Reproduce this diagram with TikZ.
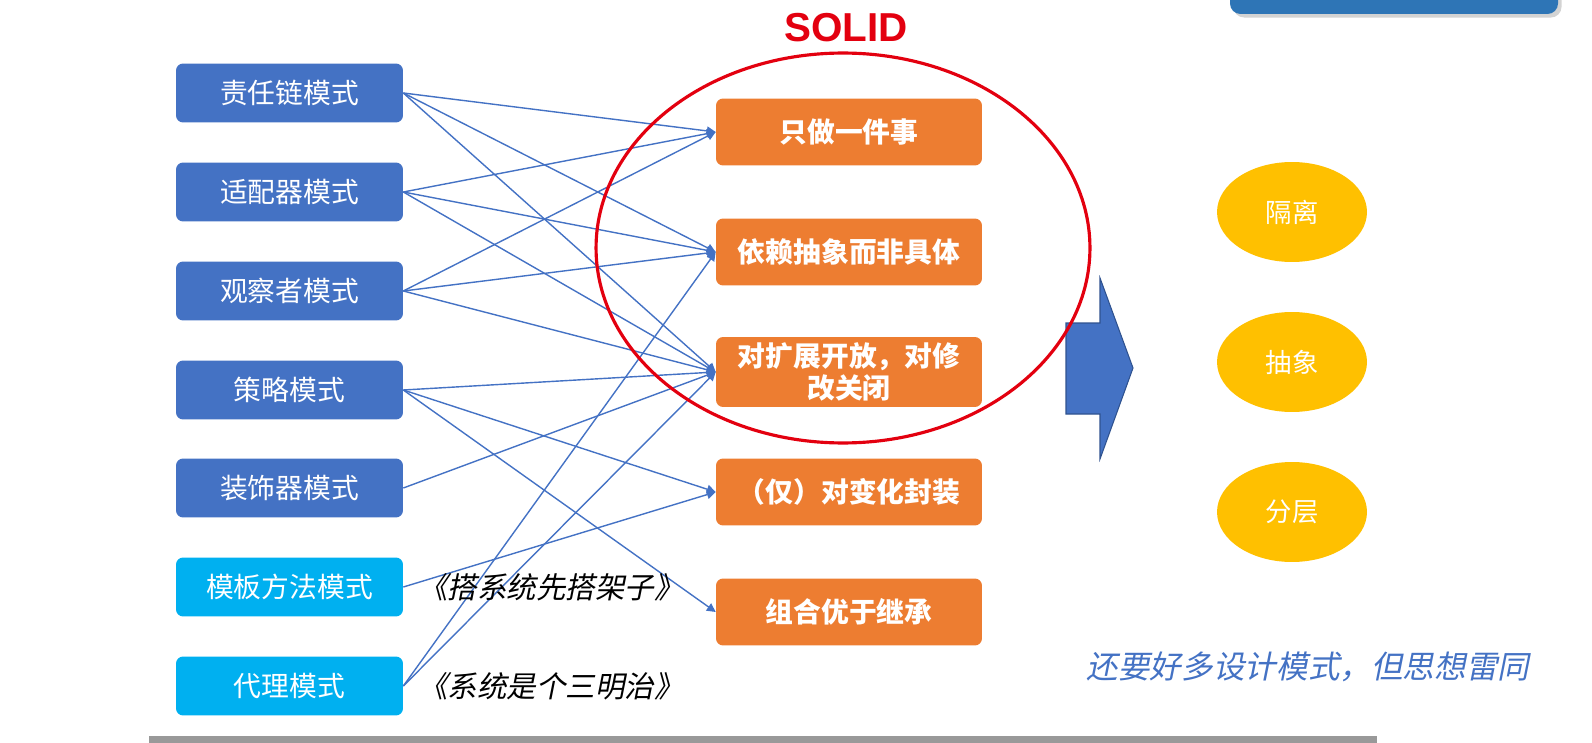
\documentclass[tikz,border=0pt]{standalone}
\usepackage{fontspec}
\setmainfont{Noto Sans CJK SC}
\newfontfamily\slantcjk[FakeSlant=0.2]{Noto Sans CJK SC}
\newfontfamily\solidfont{Liberation Sans}
\usetikzlibrary{arrows.meta,shadows,shapes.geometric}

\definecolor{pptblue}{HTML}{4472C4}
\definecolor{pptcyan}{HTML}{00B0F0}
\definecolor{pptorange}{HTML}{ED7D31}
\definecolor{pptgold}{HTML}{FFC000}
\definecolor{pptnavy}{HTML}{2F528F}
\definecolor{pptred}{HTML}{E3000F}
\definecolor{titlebar}{HTML}{2E75B6}

\tikzset{
	pattern box/.style={draw=none, fill=pptblue, rounded corners=4pt, text=white,
		minimum width=4.54cm, minimum height=1.18cm, font=\fontsize{15.8}{19}\selectfont},
	rule box/.style={draw=none, fill=pptorange, rounded corners=4pt, text=white, align=center,
		minimum width=5.32cm, minimum height=1.34cm, font=\fontsize{15.8}{18}\selectfont\bfseries},
	idea/.style={ellipse, fill=pptgold, text=white, minimum width=3cm, minimum height=2cm,
		inner sep=0pt, font=\fontsize{15}{18}\selectfont},
	link/.style={pptblue, line width=0.8pt, -{Triangle[length=5pt, width=5pt]}}
}

\begin{document}
\begin{tikzpicture}[x=0.02cm, y=-0.02cm]
	\useasboundingbox (0,0) rectangle (1592,743);
	\clip (0,0) rectangle (1592,743);

	% bar cut off at the top
	\fill[titlebar, rounded corners=6pt, drop shadow={opacity=0.35, shadow xshift=2pt, shadow yshift=-2pt}]
		(1230,-30) rectangle (1558,14);

	% the patterns
	\foreach \name/\y/\txt in {l1/93/责任链模式, l2/192/适配器模式, l3/291/观察者模式,
			l4/390/策略模式, l5/488/装饰器模式}
		\node[pattern box] (\name) at (289.5,\y) {\txt};
	\node[pattern box, fill=pptcyan] (l6) at (289.5,587) {模板方法模式};
	\node[pattern box, fill=pptcyan] (l7) at (289.5,686) {代理模式};

	% the principles
	\node[rule box] (m1) at (849,132) {只做一件事};
	\node[rule box] (m2) at (849,252) {依赖抽象而非具体};
	\node[rule box] (m3) at (849,372) {对扩展开放，对修\\改关闭};
	\node[rule box] (m4) at (849,492) {（仅）对变化封装};
	\node[rule box] (m5) at (849,612) {组合优于继承};

	\foreach \a/\b in {1/1, 1/2, 1/3, 2/1, 2/2, 2/3, 3/1, 3/2, 3/3,
			4/3, 4/4, 4/5, 5/3, 6/4, 7/2, 7/3}
		\draw[link] (l\a.east) -- (m\b.west);

	\node[anchor=west, font=\slantcjk\fontsize{16.8}{20}\selectfont] (note6) at (412,587) {《搭系统先搭架子》};
	\node[anchor=west, font=\slantcjk\fontsize{16.8}{20}\selectfont] (note7) at (412,686) {《系统是个三明治》};

	% arrow to the ideas
	\filldraw[fill=pptblue, draw=pptnavy, line width=0.6pt]
		(1066,323) -- (1100,323) -- (1100,278) -- (1133,368) -- (1100,459) -- (1100,414) -- (1066,414) -- cycle;

	\draw[pptred, line width=1.8pt] (843,248) ellipse [x radius=4.94cm, y radius=3.9cm];
	\node[text=pptred, font=\solidfont\bfseries\fontsize{23}{26}\selectfont] (solid) at (846,28) {SOLID};

	\node[idea] (r1) at (1292,212) {隔离};
	\node[idea] (r2) at (1292,362) {抽象};
	\node[idea] (r3) at (1292,512) {分层};

	\node[text=pptblue, font=\slantcjk\fontsize{18}{22}\selectfont] (remark) at (1308,667) {还要好多设计模式，但思想雷同};

	\fill[black!40] (149,736) rectangle (1377,743);
\end{tikzpicture}
\end{document}
